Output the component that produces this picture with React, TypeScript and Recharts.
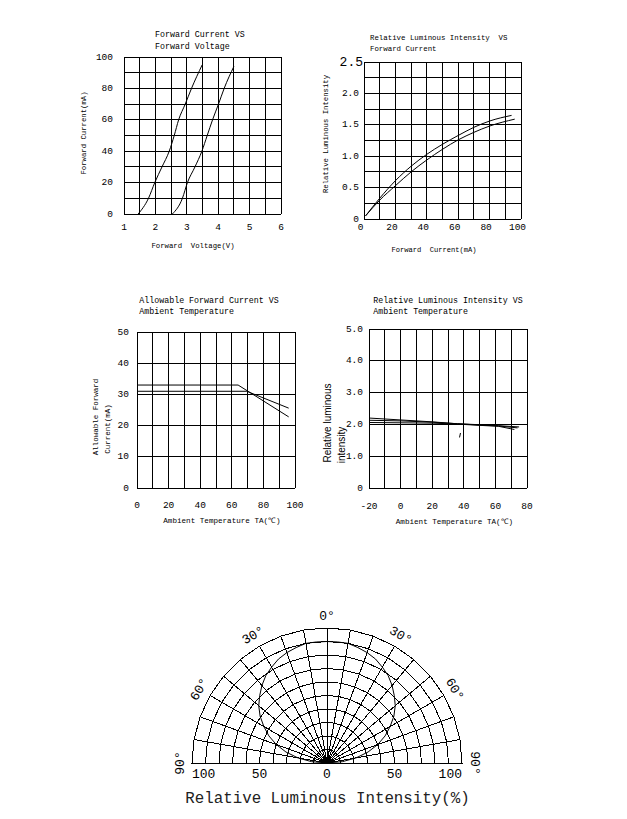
import React from 'react';
import {
  LineChart, Line, XAxis, YAxis, CartesianGrid,
  RadarChart, Radar, PolarGrid, PolarAngleAxis, PolarRadiusAxis,
} from 'recharts';

const MONO = '"Liberation Mono", "DejaVu Sans Mono", monospace';
const SANS = '"Liberation Sans", Arial, sans-serif';

// ---------- Chart 1: Forward Current vs Forward Voltage ----------
const fvVoltageA = [1.45, 1.78, 1.98, 2.21, 2.44, 2.6, 2.74, 2.95, 3.15, 3.49];
const fvCurrentA = [0, 10, 20, 30, 40, 50, 60, 70, 80, 95];
const fvVoltageB = [2.54, 2.86, 3.02, 3.26, 3.48, 3.65, 3.82, 4.01, 4.19, 4.5];
const fvCurrentB = [0, 10, 20, 30, 40, 50, 60, 70, 80, 94];
const fvXTicks = [1, 1.5, 2, 2.5, 3, 3.5, 4, 4.5, 5, 5.5, 6];
const fvYTicks = [0, 10, 20, 30, 40, 50, 60, 70, 80, 90, 100];

// ---------- Chart 2: Relative Luminous Intensity vs Forward Current ----------
const liCurrentUpper = [1, 10, 20, 30, 40, 50, 60, 70, 80, 94];
const liIntensityUpper = [0.05, 0.33, 0.61, 0.84, 1.03, 1.19, 1.33, 1.46, 1.56, 1.65];
const liCurrentLower = [1, 10, 20, 30, 40, 50, 60, 70, 80, 96];
const liIntensityLower = [0.05, 0.3, 0.53, 0.75, 0.94, 1.11, 1.26, 1.38, 1.48, 1.59];
const liXTicks = [0, 10, 20, 30, 40, 50, 60, 70, 80, 90, 100];
const liYTicks = [0, 0.25, 0.5, 0.75, 1, 1.25, 1.5, 1.75, 2, 2.25, 2.5];

// ---------- Chart 3: Allowable Forward Current vs Ambient Temperature ----------
const afTempA = [0, 64, 96];
const afCurrentA = [33, 33, 22.8];
const afTempB = [0, 69.5, 96];
const afCurrentB = [31, 31, 25.6];
const afXTicks = [0, 10, 20, 30, 40, 50, 60, 70, 80, 90, 100];
const afYTicks = [0, 10, 20, 30, 40, 50];

// ---------- Chart 4: Relative Luminous Intensity vs Ambient Temperature ----------
const ltTemp = [-20, 0, 20, 36, 50, 62, 75];
const ltIntensity1 = [2.2, 2.14, 2.08, 2.02, 1.99, 1.96, 1.92];
const ltTemp2 = [-20, 0, 20, 36, 50, 62, 74];
const ltIntensity2 = [2.13, 2.11, 2.07, 2.02, 1.98, 1.95, 1.89];
const ltTemp3 = [-20, 0, 20, 36, 50, 62, 72];
const ltIntensity3 = [2.06, 2.05, 2.04, 2.01, 1.97, 1.94, 1.84];
const ltStrayTemp = [37.3, 37.9];
const ltStrayIntensity = [1.59, 1.73];
const ltXTicks = [-20, -10, 0, 10, 20, 30, 40, 50, 60, 70, 80];
const ltYTicks = [0, 1, 2, 3, 4, 5];

// ---------- Polar: radiation pattern ----------
const polarAngles = [-90, -85, -80, -75, -70, -65, -60, -55, -50, -45, -40, -35, -30, -25, -20, -15, -10, -5, 0,
  5, 10, 15, 20, 25, 30, 35, 40, 45, 50, 55, 60, 65, 70, 75, 80, 85, 90];
const polarIntensity = [0, 11.5, 22, 31.5, 40, 47.5, 54, 60.5, 66, 70.5, 75, 79, 82, 85, 87, 88.5, 90, 90, 90,
  90, 90, 88.5, 87, 85, 82, 79, 75, 70.5, 66, 60.5, 54, 47.5, 40, 31.5, 22, 11.5, 0];
const polarAngleTicks = [-90, -80, -70, -60, -50, -40, -30, -20, -10, 0, 10, 20, 30, 40, 50, 60, 70, 80, 90];
const polarRadiusTicks = [0, 10, 20, 30, 40, 50, 60, 70, 80, 90, 100];
const polarAngleLabels = [-90, -60, -30, 0, 30, 60, 90];
const polarRadiusLabels = [0, 50, 100];

const zip = (xs: number[], ys: number[]) => xs.map((x, i) => ({ x, y: ys[i] }));
const polarData = polarAngles.map((a, i) => ({ angle: a, value: polarIntensity[i] }));

type Series = { data: { x: number; y: number }[]; curve: 'monotone' | 'linear' };

function Txt({ x, y, text, size, rot = 0, anchor = 'middle', font = MONO, color = '#000' }: any) {
  const tx = anchor === 'start' ? '0' : anchor === 'end' ? '-100%' : '-50%';
  return (
    <div
      style={{
        position: 'absolute', left: x, top: y,
        transform: `translate(${tx}, -50%) rotate(${rot}deg)`,
        fontSize: size, fontFamily: font, color, lineHeight: 1, whiteSpace: 'pre',
      }}
    >
      {text}
    </div>
  );
}

function GridChart({ plot, xDomain, xTicks, xFmt, yDomain, yTicks, yFmt, xGap, yGap, series, xDx = 0, bigTop = false }: any) {
  const [L, T, R, B] = plot;
  const PADL = 50, PADT = 12, PADR = 14, PADB = 40;
  const w = R - L + PADL + PADR;
  const h = B - T + PADT + PADB;
  const XTick = (p: any) => (
    <text x={p.x + xDx} y={p.y} textAnchor="middle" dominantBaseline="central" fontSize={9.5} fontFamily={MONO} fill="#000">
      {xFmt(p.payload.value)}
    </text>
  );
  const YTick = (p: any) => {
    const v = p.payload.value;
    const big = bigTop && v === yDomain[1];
    return (
      <text x={p.x + (big ? 4 : 0)} y={p.y} textAnchor="end" dominantBaseline="central" fontSize={big ? 13 : 9.5} fontFamily={MONO} fill="#000">
        {yFmt(v)}
      </text>
    );
  };
  return (
    <div style={{ position: 'absolute', left: L - PADL, top: T - PADT }}>
      <LineChart width={w} height={h} margin={{ left: PADL - 40, top: PADT, right: PADR, bottom: PADB - 30 }}>
        <CartesianGrid stroke="#000" strokeWidth={1} />
        <XAxis
          type="number" dataKey="x" domain={xDomain} ticks={xTicks} interval={0} allowDataOverflow
          height={30} tickSize={0} tickMargin={xGap} tickLine={false} axisLine={{ stroke: '#000' }} tick={XTick}
        />
        <YAxis
          type="number" dataKey="y" domain={yDomain} ticks={yTicks} interval={0} allowDataOverflow
          width={40} tickSize={0} tickMargin={yGap} tickLine={false} axisLine={{ stroke: '#000' }} tick={YTick}
        />
        {series.map((s: Series, i: number) => (
          <Line
            key={i} data={s.data} dataKey="y" type={s.curve} stroke="#000" strokeWidth={1}
            dot={false} activeDot={false} isAnimationActive={false}
          />
        ))}
      </LineChart>
    </div>
  );
}

const CX = 167;
const CY = 163;

const AngleTick = (p: any) => {
  const v = p.payload.value;
  if (!polarAngleLabels.includes(v)) return <g />;
  return (
    <text
      x={p.x} y={p.y} transform={`rotate(${v}, ${p.x}, ${p.y})`} textAnchor="middle" dominantBaseline="central"
      fontSize={13} fontFamily={MONO} fill="#000"
    >
      {`${Math.abs(v)}°`}
    </text>
  );
};

const RadiusTick = (p: any) => {
  const v = p.payload.value;
  if (!polarRadiusLabels.includes(v)) return <g />;
  const y = p.y + 11;
  const mx = 2 * CX - p.x;
  const anchorR = v === 100 ? 'end' : 'middle';
  const anchorL = v === 100 ? 'start' : 'middle';
  return (
    <g>
      <text x={p.x} y={y} textAnchor={anchorR} dominantBaseline="central" fontSize={13} fontFamily={MONO} fill="#000">{v}</text>
      {v !== 0 && (
        <text x={mx} y={y} textAnchor={anchorL} dominantBaseline="central" fontSize={13} fontFamily={MONO} fill="#000">{v}</text>
      )}
    </g>
  );
};

const fmtEvery = (step: number) => (v: number) => (Math.abs(v / step - Math.round(v / step)) < 1e-6 ? String(v) : '');
const fmtDec = (step: number) => (v: number) => {
  if (v === 0) return '0';
  return Math.abs(v / step - Math.round(v / step)) < 1e-6 ? v.toFixed(1) : '';
};

export default function App() {
  return (
    <div style={{ position: 'relative', left: -8, top: -8, width: 611, height: 800, background: '#fff' }}>
      <style>{`.recharts-cartesian-grid line, .recharts-polar-grid line, .recharts-polar-grid path, .recharts-cartesian-axis-line { shape-rendering: crispEdges; }`}</style>

      {/* Chart 1 */}
      <Txt x={155} y={35} text="Forward Current VS" size={8.3} anchor="start" />
      <Txt x={155} y={46.7} text="Forward Voltage" size={8.3} anchor="start" />
      <GridChart
        plot={[124, 57, 281, 214]} xDomain={[1, 6]} xTicks={fvXTicks} xFmt={fmtEvery(1)}
        yDomain={[0, 100]} yTicks={fvYTicks} yFmt={fmtEvery(20)} xGap={13} yGap={11}
        series={[{ data: zip(fvVoltageA, fvCurrentA), curve: 'monotone' }, { data: zip(fvVoltageB, fvCurrentB), curve: 'monotone' }]}
      />
      <Txt x={85} y={133} text="Forward Current(mA)" size={7.3} rot={-90} />
      <Txt x={193} y={247} text="Forward  Voltage(V)" size={7.3} />

      {/* Chart 2 */}
      <Txt x={370} y={39} text="Relative Luminous Intensity  VS" size={7.4} anchor="start" />
      <Txt x={370} y={50} text="Forward Current" size={7.4} anchor="start" />
      <GridChart
        plot={[364, 62, 521, 219]} xDomain={[0, 100]} xTicks={liXTicks} xFmt={fmtEvery(20)}
        yDomain={[0, 2.5]} yTicks={liYTicks} yFmt={fmtDec(0.5)} xGap={8} yGap={5} xDx={-3.5} bigTop
        series={[{ data: zip(liCurrentUpper, liIntensityUpper), curve: 'monotone' }, { data: zip(liCurrentLower, liIntensityLower), curve: 'monotone' }]}
      />
      <Txt x={326.5} y={134} text="Relative Luminous Intensity" size={7.3} rot={-90} />
      <Txt x={434} y={251} text="Forward  Current(mA)" size={7.1} />

      {/* Chart 3 */}
      <Txt x={139.3} y={300.7} text="Allowable Forward Current VS" size={8.3} anchor="start" />
      <Txt x={139.3} y={311.7} text="Ambient Temperature" size={8.3} anchor="start" />
      <GridChart
        plot={[137, 332, 295, 488]} xDomain={[0, 100]} xTicks={afXTicks} xFmt={fmtEvery(20)}
        yDomain={[0, 50]} yTicks={afYTicks} yFmt={fmtEvery(10)} xGap={17} yGap={8}
        series={[{ data: zip(afTempA, afCurrentA), curve: 'linear' }, { data: zip(afTempB, afCurrentB), curve: 'linear' }]}
      />
      <Txt x={97.3} y={416.5} text="Allowable Forward" size={7.5} rot={-90} />
      <Txt x={109.3} y={429} text="Current(mA)" size={7.5} rot={-90} />
      <Txt x={222} y={522} text="Ambient Temperature TA(℃)" size={7.6} />

      {/* Chart 4 */}
      <Txt x={373.3} y={300.7} text="Relative Luminous Intensity VS" size={8.3} anchor="start" />
      <Txt x={373.3} y={311.7} text="Ambient Temperature" size={8.3} anchor="start" />
      <GridChart
        plot={[369, 329, 527, 488]} xDomain={[-20, 80]} xTicks={ltXTicks} xFmt={fmtEvery(20)}
        yDomain={[0, 5]} yTicks={ltYTicks} yFmt={fmtDec(1)} xGap={18} yGap={6}
        series={[
          { data: zip(ltTemp, ltIntensity1), curve: 'linear' },
          { data: zip(ltTemp2, ltIntensity2), curve: 'linear' },
          { data: zip(ltTemp3, ltIntensity3), curve: 'linear' },
          { data: zip(ltStrayTemp, ltStrayIntensity), curve: 'linear' },
        ]}
      />
      <Txt x={328.3} y={423.3} text="Relative luminous" size={10} rot={-90} font={SANS} />
      <Txt x={341.7} y={445} text="intensity" size={10} rot={-90} font={SANS} />
      <Txt x={454.5} y={523.3} text="Ambient Temperature TA(℃)" size={7.6} />

      {/* Polar radiation pattern */}
      <div style={{ position: 'absolute', left: 160, top: 600 }}>
        <RadarChart
          width={340} height={200} cx={CX} cy={CY} outerRadius={135} innerRadius={0}
          startAngle={180} endAngle={0} data={polarData} margin={{ top: 0, left: 0, right: 0, bottom: 0 }}
        >
          <PolarGrid gridType="polygon" stroke="#000" strokeWidth={1} />
          <PolarAngleAxis
            dataKey="angle" type="number" domain={[-90, 90]} ticks={polarAngleTicks} tickCount={19}
            tick={AngleTick} tickLine={false} axisLine={false} tickSize={12}
          />
          <PolarRadiusAxis
            angle={0} type="number" domain={[0, 100]} ticks={polarRadiusTicks} tickCount={11}
            tick={RadiusTick} axisLine={false} tickLine={false}
          />
          <Radar dataKey="value" stroke="#000" strokeWidth={1} fill="none" fillOpacity={0} dot={false} isAnimationActive={false} />
        </RadarChart>
      </div>
      <Txt x={327.5} y={800} text="Relative Luminous Intensity(%)" size={15.8} color="#222" />
    </div>
  );
}
